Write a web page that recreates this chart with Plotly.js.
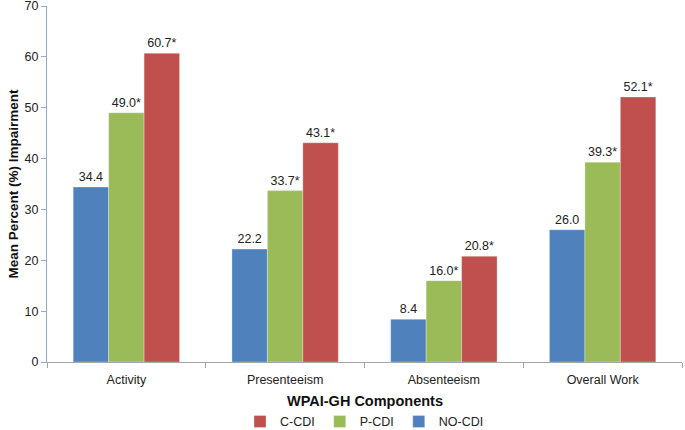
<!DOCTYPE html>
<html>
<head>
<meta charset="utf-8">
<script src="https://cdn.plot.ly/plotly-3.0.1.min.js"></script>
<style>html,body{margin:0;padding:0;background:#fff}#chart{width:685px;height:430px}</style>
</head>
<body>
<div id="chart"></div>
<script>
var categories = ["Activity", "Presenteeism", "Absenteeism", "Overall Work"];
var noCdi = [34.4, 22.2, 8.4, 26.0];
var pCdi = [49.0, 33.7, 16.0, 39.3];
var cCdi = [60.7, 43.1, 20.8, 52.1];
var noCdiLabels = ["34.4", "22.2", "8.4", "26.0"];
var pCdiLabels = ["49.0*", "33.7*", "16.0*", "39.3*"];
var cCdiLabels = ["60.7*", "43.1*", "20.8*", "52.1*"];
var yTicks = [0, 10, 20, 30, 40, 50, 60, 70];
var xTitle = "WPAI-GH Components";
var yTitle = "Mean Percent (%) Impairment";

var FONT = "Liberation Sans, Arial, sans-serif";
function mk(name, vals, labels, color) {
  return {
    type: "bar", name: name, x: categories, y: vals,
    text: labels, textposition: "outside", cliponaxis: false,
    textfont: {family: FONT, size: 12.5, color: "#222"},
    marker: {color: color, line: {color: "rgba(255,255,255,0.6)", width: 0.5}},
    hoverinfo: "skip"
  };
}
var data = [
  mk("NO-CDI", noCdi, noCdiLabels, "#4F81BD"),
  mk("P-CDI", pCdi, pCdiLabels, "#9BBB59"),
  mk("C-CDI", cCdi, cCdiLabels, "#C0504D")
];
var layout = {
  width: 685, height: 430,
  margin: {l: 47, r: 3, t: 6, b: 68},
  paper_bgcolor: "#fff", plot_bgcolor: "#fff",
  font: {family: FONT, size: 12.5, color: "#222"},
  barmode: "group", bargap: 0.33, bargroupgap: 0,
  showlegend: true,
  legend: {orientation: "h", traceorder: "reversed", x: 0.5, xanchor: "center",
           yref: "container", y: 0.019, yanchor: "middle",
           font: {family: FONT, size: 12.5, color: "#222"}, itemwidth: 30, tracegroupgap: 0},
  annotations: [{
    text: xTitle, xref: "paper", yref: "paper", x: 0.5, y: -0.1096,
    xanchor: "center", yanchor: "middle", showarrow: false,
    font: {family: FONT, size: 14.5, color: "#111", weight: "bold"}
  }],
  xaxis: {
    automargin: false,
    showline: true, linecolor: "#a6a6a6", linewidth: 1,
    ticks: "outside", tickson: "boundaries", ticklen: 5, tickcolor: "#a6a6a6",
    ticklabelstandoff: 6,
    tickfont: {family: FONT, size: 12.5, color: "#222"},
    showgrid: false, zeroline: false, fixedrange: true
  },
  yaxis: {
    automargin: false,
    range: [0, 70], tickvals: yTicks, showline: true, linecolor: "#8eaadb", linewidth: 1,
    ticks: "outside", ticklen: 5, tickcolor: "#8eaadb", ticklabeloverflow: "allow",
    tickfont: {family: FONT, size: 12.5, color: "#222"},
    title: {text: yTitle, font: {family: FONT, size: 13.5, color: "#111", weight: "bold"}, standoff: 2},
    showgrid: false, zeroline: false, fixedrange: true
  }
};
Plotly.newPlot("chart", data, layout, {displayModeBar: false, staticPlot: true});
</script>
</body>
</html>
